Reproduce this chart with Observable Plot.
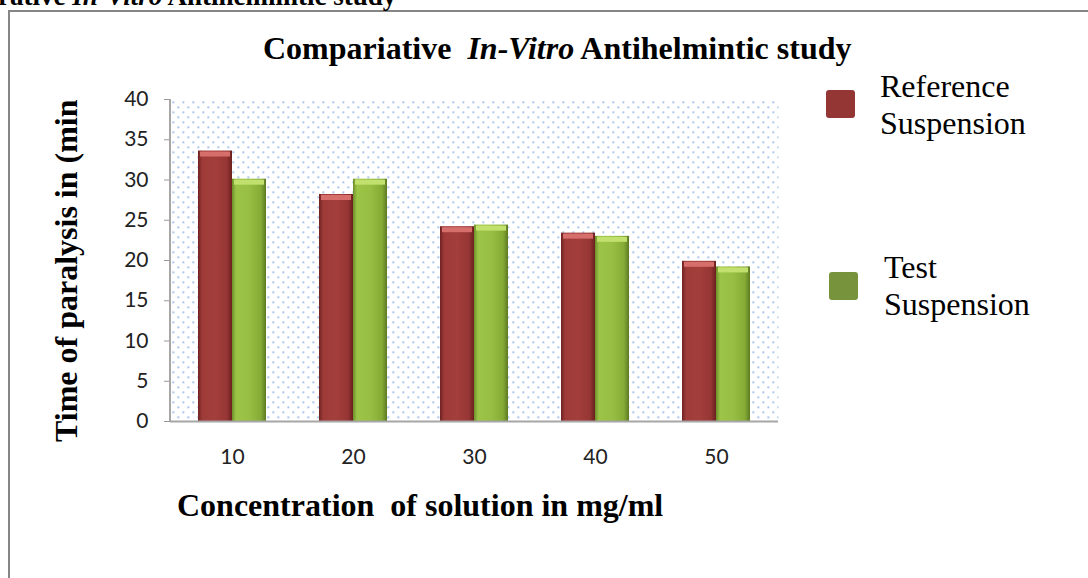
<!DOCTYPE html>
<html><head><meta charset="utf-8">
<script src="https://cdn.jsdelivr.net/npm/d3@7"></script>
<script src="https://cdn.jsdelivr.net/npm/@observablehq/plot@0.6"></script>
<style>
html,body{margin:0;padding:0;background:#fff;}
#wrap{position:relative;width:1088px;height:578px;overflow:hidden;background:#fff;}
#box{position:absolute;left:8px;top:10px;width:1200px;height:700px;border-left:2px solid #868686;border-top:2px solid #868686;}
.t{position:absolute;font-family:"Liberation Serif","Times New Roman",serif;color:#000;white-space:nowrap;}
#frag{left:-2px;top:-19px;font-size:27px;font-weight:bold;}
#title{left:263px;top:30px;font-size:32px;font-weight:bold;}
#xlab{left:177px;top:487px;font-size:32px;font-weight:bold;transform-origin:0 0;}
#ylab{left:48px;top:442px;font-size:32px;font-weight:bold;transform:rotate(-90deg);transform-origin:0 0;}
.sw{position:absolute;width:29px;height:28px;border-radius:3px;}
.lg{font-size:32px;line-height:37px;}
#plot{position:absolute;left:0;top:0;}
</style></head>
<body><div id="wrap">
<div id="box"></div>
<div class="t" id="frag">rative <i>In-Vitro</i> Antihelmintic study</div>
<div class="t" id="title">Compariative &nbsp;<i>In-Vitro</i> Antihelmintic study</div>
<div id="plot"></div>
<div class="t" id="xlab">Concentration&nbsp; of solution in mg/ml</div>
<div class="t" id="ylab">Time of paralysis in (min</div>
<div class="sw" style="left:826px;top:90px;background:#943634"></div>
<div class="t lg" style="left:880px;top:68px">Reference<br>Suspension</div>
<div class="sw" style="left:829px;top:272px;background:#77933c"></div>
<div class="t lg" style="left:884px;top:249px">Test<br>Suspension</div>
</div>
<script>
const concentrations = [10, 20, 30, 40, 50];
const referenceValues = [33.6, 28.2, 24.2, 23.4, 19.9];
const testValues = [30.1, 30.1, 24.4, 23.0, 19.2];
const yTicks = [0, 5, 10, 15, 20, 25, 30, 35, 40];

const refData = concentrations.map((c, i) => ({c, v: referenceValues[i]}));
const testData = concentrations.map((c, i) => ({c, v: testValues[i]}));

const chart = Plot.plot({
  width: 1088, height: 578,
  marginLeft: 170, marginRight: 310, marginTop: 99, marginBottom: 157,
  style: {background: "transparent", fontFamily: "Lato, 'Open Sans', sans-serif", fontSize: "21px", color: "#222"},
  x: {type: "band", domain: concentrations, paddingInner: 0.44, paddingOuter: 0.22, label: null},
  y: {domain: [0, 40], label: null},
  marks: [
    Plot.frame({fill: "url(#dots)", stroke: null}),
    Plot.barY(refData, {x: "c", y: "v", insetRight: 34, fill: "url(#gRef)"}),
    Plot.barY(testData, {x: "c", y: "v", insetLeft: 34, fill: "url(#gTest)"}),
    Plot.tickY(refData, {x: "c", y: "v", insetRight: 36, insetLeft: 2, dy: 3, stroke: "#d66e6b", strokeWidth: 5}),
    Plot.tickY(testData, {x: "c", y: "v", insetLeft: 36, insetRight: 2, dy: 3, stroke: "#c2e06e", strokeWidth: 5}),
    Plot.axisY({ticks: yTicks, tickSize: 6, tickPadding: 16, stroke: "#999", fontSize: 21, label: null}),
    Plot.axisX({tickSize: 0, tickPadding: 28, fontSize: 21, label: null}),
    Plot.ruleY([0], {stroke: "#a6a6a6", strokeWidth: 2})
  ]
});

const svg = d3.select(chart);
const defs = svg.insert("defs", ":first-child");
const pat = defs.append("pattern").attr("id", "dots").attr("patternUnits", "userSpaceOnUse")
  .attr("x", 171).attr("y", 100).attr("width", 10).attr("height", 10);
pat.append("rect").attr("width", 10).attr("height", 10).attr("fill", "#fff");
pat.append("rect").attr("x", 1).attr("y", 1).attr("width", 1.5).attr("height", 1.5).attr("fill", "#6a9ad9");
pat.append("rect").attr("x", 6).attr("y", 6).attr("width", 1.5).attr("height", 1.5).attr("fill", "#6a9ad9");
function grad(id, stops) {
  const g = defs.append("linearGradient").attr("id", id).attr("x1", 0).attr("x2", 1).attr("y1", 0).attr("y2", 0);
  stops.forEach(([o, c]) => g.append("stop").attr("offset", o).attr("stop-color", c));
}
grad("gRef", [[0, "#6e2220"], [0.12, "#9e3b39"], [0.5, "#a33e3c"], [0.85, "#963634"], [1, "#6a201e"]]);
grad("gTest", [[0, "#6e8f2b"], [0.12, "#9cc447"], [0.5, "#98bf43"], [0.85, "#86ab36"], [1, "#5c7a22"]]);
svg.append("line").attr("x1", 170).attr("x2", 170).attr("y1", 99).attr("y2", 421)
  .attr("stroke", "#a6a6a6").attr("stroke-width", 2);
document.getElementById("plot").appendChild(chart);
</script>
</body></html>
